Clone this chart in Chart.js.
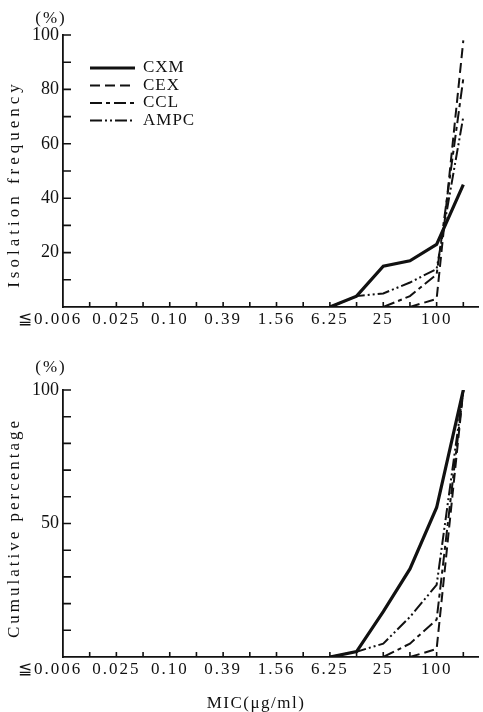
<!DOCTYPE html>
<html>
<head>
<meta charset="utf-8">
<script src="https://cdn.jsdelivr.net/npm/chart.js@4.4.0/dist/chart.umd.min.js"></script>
<style>
  html, body { margin: 0; padding: 0; background: #fff; }
  #wrap { position: relative; width: 483px; height: 712px; }
  canvas { position: absolute; left: 0; }
  #top { top: 0; }
  #bot { top: 340px; }
</style>
</head>
<body>
<div id="wrap">
  <canvas id="top" width="483" height="340"></canvas>
  <canvas id="bot" width="483" height="372"></canvas>
</div>
<script>
// MIC dilution steps (µg/ml); labels are printed on every other step
const micSteps = ['≦0.006', '0.0125', '0.025', '0.05', '0.10', '0.20', '0.39', '0.78',
                  '1.56', '3.13', '6.25', '12.5', '25', '50', '100', '200'];
const micShown = ['≦0.006', '0.025', '0.10', '0.39', '1.56', '6.25', '25', '100'];

const drugs = ['CXM', 'CEX', 'CCL', 'AMPC'];

// isolation frequency (%) per MIC step
const freqCXM  = [null, null, null, null, null, null, null, null, null, null, 0, 4, 15, 17, 23, 45];
const freqCEX  = [null, null, null, null, null, null, null, null, null, null, null, null, null, 0, 3, 98];
const freqCCL  = [null, null, null, null, null, null, null, null, null, null, null, null, 0, 4, 12, 84];
const freqAMPC = [null, null, null, null, null, null, null, null, null, null, 0, 4, 5, 9, 14, 70];

// cumulative percentage (%) per MIC step
const cumCXM  = [null, null, null, null, null, null, null, null, null, null, 0, 2, 17, 33, 56, 100];
const cumCEX  = [null, null, null, null, null, null, null, null, null, null, null, null, null, 0, 3, 100];
const cumCCL  = [null, null, null, null, null, null, null, null, null, null, null, null, 0, 5, 14, 100];
const cumAMPC = [null, null, null, null, null, null, null, null, null, null, 0, 2, 5, 15, 27, 100];

const freqTicks = [20, 40, 60, 80, 100];
const cumTicks = [50, 100];

const SERIF = '"Liberation Serif", "DejaVu Serif", serif';
const INK = '#111';

const lineStyle = {
  CXM:  { borderWidth: 3.2, borderDash: [] },
  CEX:  { borderWidth: 2,   borderDash: [10, 5] },
  CCL:  { borderWidth: 2,   borderDash: [12, 4, 4, 4] },
  AMPC: { borderWidth: 2,   borderDash: [12, 3, 2, 3, 2, 3] }
};

function toPoints(arr) {
  const pts = [];
  arr.forEach((v, i) => { if (v !== null) pts.push({ x: i, y: v }); });
  return pts;
}

function makeDatasets(series) {
  return drugs.map((d, k) => ({
    label: d,
    data: toPoints(series[k]),
    borderColor: INK,
    borderWidth: lineStyle[d].borderWidth,
    borderDash: lineStyle[d].borderDash,
    pointRadius: 0,
    tension: 0,
    fill: false
  }));
}

function textAt(ctx, str, x, y, opts) {
  ctx.save();
  ctx.font = (opts.size || 17) + 'px ' + SERIF;
  ctx.fillStyle = INK;
  ctx.letterSpacing = (opts.spacing || 0) + 'px';
  ctx.textAlign = opts.align || 'center';
  ctx.textBaseline = 'middle';
  ctx.translate(x, y);
  if (opts.rotate) ctx.rotate(opts.rotate);
  ctx.fillText(str, 0, 0);
  ctx.restore();
}

// inward tick marks, MIC labels and free text
const inkPlugin = {
  id: 'ink',
  afterDraw(chart, args, o) {
    const { ctx, chartArea, scales: { x, y } } = chart;
    ctx.save();
    ctx.strokeStyle = INK;
    ctx.lineWidth = 1.6;
    ctx.beginPath();
    for (let i = 1; i < micSteps.length; i++) {
      const px = x.getPixelForValue(i);
      ctx.moveTo(px, chartArea.bottom);
      ctx.lineTo(px, chartArea.bottom - 5);
    }
    for (let v = 10; v <= 100; v += 10) {
      const py = y.getPixelForValue(v);
      ctx.moveTo(chartArea.left, py);
      ctx.lineTo(chartArea.left + 8, py);
    }
    ctx.stroke();
    ctx.restore();

    micSteps.forEach((lab, i) => {
      if (!micShown.includes(lab)) return;
      const px = x.getPixelForValue(i) + (i === 0 ? -13 : 0);
      textAt(ctx, lab, px, chartArea.bottom + 13, { spacing: 2 });
    });

    textAt(ctx, '(%)', 51, o.pctY, { spacing: 2 });
    textAt(ctx, o.title, 15, o.titleY, { spacing: o.titleSpacing, rotate: -Math.PI / 2 });
    if (o.xTitle) textAt(ctx, o.xTitle, 256, o.xTitleY, { spacing: 1.5 });

    if (o.legend) {
      drugs.forEach((d, k) => {
        const ly = 68 + k * 17.5;
        ctx.save();
        ctx.strokeStyle = INK;
        ctx.lineWidth = lineStyle[d].borderWidth;
        ctx.setLineDash(lineStyle[d].borderDash);
        ctx.beginPath();
        ctx.moveTo(90, ly);
        ctx.lineTo(135, ly);
        ctx.stroke();
        ctx.restore();
        textAt(ctx, d, 143, ly, { align: 'left', spacing: 1 });
      });
    }
  }
};

function buildChart(id, series, tickList, canvasH, plotTop, plotBottom, extra) {
  return new Chart(document.getElementById(id), {
    type: 'line',
    data: { datasets: makeDatasets(series) },
    options: {
      responsive: false,
      animation: false,
      devicePixelRatio: 1,
      layout: { padding: { top: plotTop, right: 5, left: 0, bottom: 0 } },
      plugins: { legend: { display: false }, tooltip: { enabled: false }, ink: extra },
      scales: {
        x: {
          type: 'linear',
          min: 0,
          max: 15.55,
          grid: { display: false },
          border: { display: true, color: INK, width: 1.8 },
          ticks: { display: false },
          afterFit: s => { s.height = canvasH - plotBottom; }
        },
        y: {
          min: 0,
          max: 100,
          grid: { display: false, drawTicks: false },
          border: { display: true, color: INK, width: 1.8 },
          ticks: {
            stepSize: 10,
            padding: 4,
            color: INK,
            font: { family: SERIF, size: 18 },
            callback: v => (tickList.includes(v) ? String(v) : '')
          },
          afterFit: s => { s.width = 63; }
        }
      }
    },
    plugins: [inkPlugin]
  });
}

buildChart('top', [freqCXM, freqCEX, freqCCL, freqAMPC], freqTicks, 340, 35, 307,
  { title: 'Isolation frequency', titleY: 184, titleSpacing: 4, pctY: 19, legend: true });

buildChart('bot', [cumCXM, cumCEX, cumCCL, cumAMPC], cumTicks, 372, 50, 317,
  { title: 'Cumulative percentage', titleY: 188, titleSpacing: 3, pctY: 28, xTitle: 'MIC(μg/ml)', xTitleY: 364 });
</script>
</body>
</html>
